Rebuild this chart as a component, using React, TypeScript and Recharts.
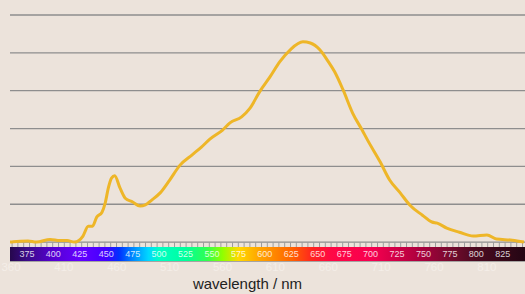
import { LineChart, Line, XAxis, YAxis, CartesianGrid, ReferenceArea, Label } from 'recharts'

// emission spectrum
const wavelengths = [
  359, 362, 376, 384, 397, 406, 413, 420, 428, 433, 437, 441, 446, 449, 452, 455, 458, 463, 468, 475,
  482, 487, 493, 501, 510, 520, 531, 540, 548, 560, 567, 578, 586, 595, 605, 614, 624, 636, 643, 652,
  659, 666, 674, 683, 692, 697, 709, 718, 728, 737, 749, 758, 763, 772, 784, 797, 810, 819, 834, 845,
]
const intensity = [
  0.0, 0.01, 0.03, 0.0, 0.07, 0.04, 0.04, 0.0, 0.16, 0.42, 0.42, 0.66, 0.79, 1.03, 1.43, 1.69, 1.75, 1.43, 1.16, 1.06,
  0.95, 0.98, 1.11, 1.3, 1.64, 2.04, 2.3, 2.51, 2.72, 2.96, 3.15, 3.31, 3.54, 3.97, 4.37, 4.76, 5.08, 5.29, 5.26, 5.08,
  4.81, 4.5, 4.02, 3.41, 2.96, 2.7, 2.12, 1.64, 1.3, 0.98, 0.71, 0.53, 0.5, 0.37, 0.26, 0.16, 0.19, 0.08, 0.05, 0.0,
]

const spectrumTicks = [375, 400, 425, 450, 475, 500, 525, 550, 575, 600, 625, 650, 675, 700, 725, 750, 775, 800, 825]
const faintTicks = [360, 410, 460, 510, 560, 610, 660, 710, 760, 810]
const gridTicks = [0, 1, 2, 3, 4, 5, 6]

const spectrumStops: [number, string][] = [
  [359, '#26084c'], [375, '#3b0a88'], [400, '#5600d2'], [425, '#6400ff'], [450, '#4400ff'],
  [462, '#0030ff'], [475, '#0088ff'], [490, '#00d8ff'], [500, '#00ffc4'], [525, '#00ff9c'],
  [545, '#30ff50'], [560, '#90ff00'], [575, '#ffd800'], [590, '#ffb000'], [600, '#ff9a00'],
  [625, '#ff6400'], [645, '#ff2420'], [662, '#ff0844'], [700, '#f80050'], [725, '#d00046'],
  [750, '#a6003c'], [775, '#760a2e'], [800, '#4a0a20'], [825, '#360818'], [846, '#240614'],
]

const X_MIN = 359
const X_MAX = 846

const data = wavelengths.map((w, i) => ({ nm: w, value: intensity[i] }))

function WaveTick(props: any) {
  const { x, y, payload } = props
  const v = payload.value
  if (faintTicks.includes(v)) {
    // pale labels sitting just under the colour band
    return (
      <text x={x} y={y + 6} textAnchor="middle" dominantBaseline="central" fontSize={11.5}
        fontFamily="'Liberation Sans', Arial, sans-serif" fill="#f4eee8">
        {v}
      </text>
    )
  }
  return (
    <text x={x} y={y - 7} textAnchor="middle" dominantBaseline="central" fontSize={9}
      fontFamily="'Liberation Sans', Arial, sans-serif" fill="rgba(255,255,255,0.82)">
      {v}
    </text>
  )
}

export default function App() {
  return (
    <div style={{ position: 'absolute', left: 0, top: 0, width: 525, height: 294, background: '#ece3db' }}>
      <LineChart width={525} height={294} data={data} margin={{ top: 15, right: 0, bottom: 0, left: 10 }}>
        <defs>
          <linearGradient id="spectrum" x1="0" y1="0" x2="1" y2="0">
            {spectrumStops.map(([nm, c]) => (
              <stop key={nm} offset={(nm - X_MIN) / (X_MAX - X_MIN)} stopColor={c} />
            ))}
          </linearGradient>
          <pattern id="tickband" patternUnits="userSpaceOnUse" width={5.8} height={10}>
            <rect x={0} y={0} width={1} height={10} fill="#9c9c9c" />
          </pattern>
        </defs>
        <CartesianGrid vertical={false} stroke="#8e8e8e" strokeWidth={1.3} />
        <XAxis
          dataKey="nm"
          type="number"
          domain={[X_MIN, X_MAX]}
          allowDataOverflow
          ticks={[...faintTicks, ...spectrumTicks].sort((a, b) => a - b)}
          interval={0}
          axisLine={false}
          tickLine={false}
          tickSize={0}
          tickMargin={0}
          height={33}
          tick={<WaveTick />}
        >
          <Label value="wavelength / nm" position="insideBottom" offset={5} dx={-20} fontSize={15}
            fill="#222" fontFamily="'Liberation Sans', Arial, sans-serif" />
        </XAxis>
        <YAxis hide domain={[-0.5, 6]} ticks={gridTicks} allowDataOverflow />
        <ReferenceArea x1={X_MIN} x2={X_MAX} y1={0} y2={-0.13} fill="url(#tickband)" fillOpacity={1} stroke="none" />
        <ReferenceArea x1={X_MIN} x2={X_MAX} y1={-0.13} y2={-0.5} fill="url(#spectrum)" fillOpacity={1} stroke="none" />
        <Line
          type="monotone"
          dataKey="value"
          stroke="#eeb628"
          strokeWidth={3}
          dot={false}
          isAnimationActive={false}
        />
      </LineChart>
    </div>
  )
}
